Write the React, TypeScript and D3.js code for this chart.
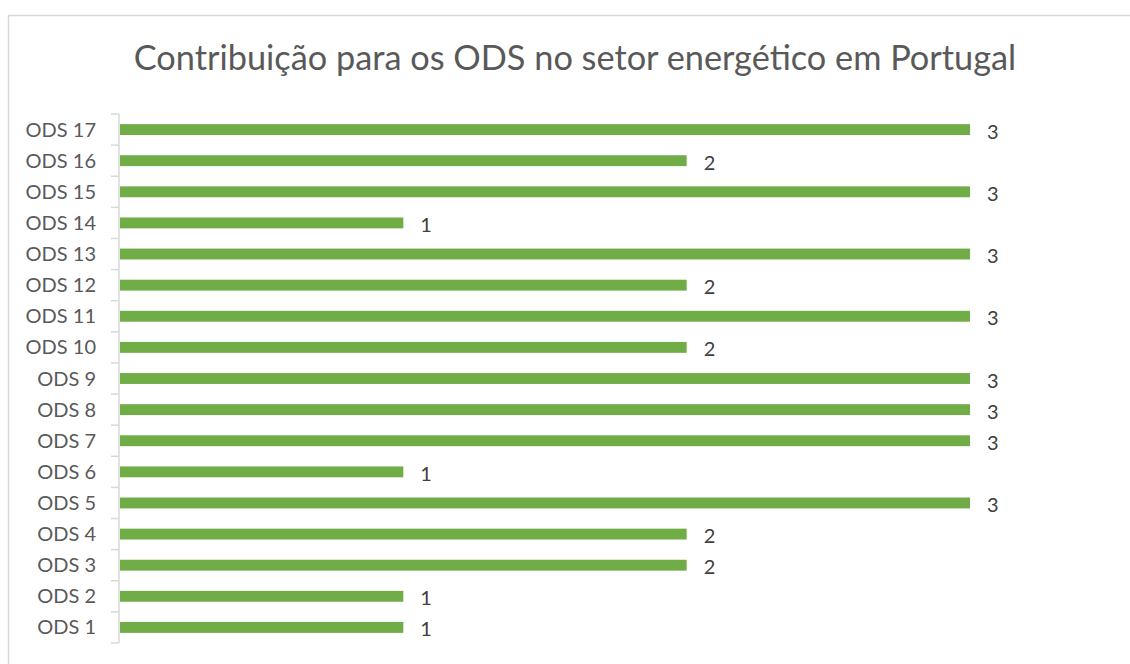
import React from "react";
import * as d3 from "d3";

const categories = [
  "ODS 1", "ODS 2", "ODS 3", "ODS 4", "ODS 5", "ODS 6", "ODS 7", "ODS 8", "ODS 9",
  "ODS 10", "ODS 11", "ODS 12", "ODS 13", "ODS 14", "ODS 15", "ODS 16", "ODS 17",
];
const values = [1, 1, 2, 2, 3, 1, 3, 3, 3, 2, 3, 2, 3, 1, 3, 2, 3];
const title = "Contribuição para os ODS no setor energético em Portugal";

const W = 1130;
const H = 664;
const FONT = "Lato, 'Open Sans', sans-serif";

export default function App() {
  const left = 119;
  const right = 970;
  const top = 114;
  const bottom = 643;

  const x = d3.scaleLinear().domain([0, 3]).range([left + 1, right]);
  // ODS 17 on top, ODS 1 at the bottom
  const y = d3
    .scaleBand<string>()
    .domain([...categories].reverse())
    .range([top, bottom])
    .paddingInner(0.65)
    .paddingOuter(0.325);
  const step = y.step();
  const boundaries = d3.range(categories.length + 1).map((i) => top + i * step);

  return (
    <svg width={W} height={H} style={{ position: "absolute", left: 0, top: 0 }}>
      <rect x={0} y={0} width={W} height={H} fill="#fff" />
      <rect x={8.5} y={15.5} width={W} height={H} fill="#fff" stroke="#d9d9d9" strokeWidth={1.5} />
      <text
        x={575}
        y={70}
        textAnchor="middle"
        fontFamily={FONT}
        fontSize={34.3}
        fill="#595959"
      >
        {title}
      </text>
      {/* category axis */}
      <line x1={left} x2={left} y1={top} y2={bottom} stroke="#d9d9d9" strokeWidth={1.5} />
      {boundaries.map((b, i) => (
        <line key={i} x1={left - 8} x2={left} y1={b} y2={b} stroke="#d9d9d9" strokeWidth={1.5} />
      ))}
      {categories.map((c, i) => {
        const yy = y(c)!;
        const bw = y.bandwidth();
        const v = values[i];
        return (
          <g key={c}>
            <text
              x={96}
              y={yy + bw / 2}
              dy="0.35em"
              textAnchor="end"
              fontFamily={FONT}
              fontSize={20}
              fill="#595959"
            >
              {c}
            </text>
            <rect x={x(0)} y={yy} width={x(v) - x(0)} height={bw} fill="#70ad47" />
            <text
              x={x(v) + 17}
              y={yy + bw / 2 + 2}
              dy="0.35em"
              textAnchor="start"
              fontFamily={FONT}
              fontSize={20}
              fill="#404040"
            >
              {v}
            </text>
          </g>
        );
      })}
    </svg>
  );
}
